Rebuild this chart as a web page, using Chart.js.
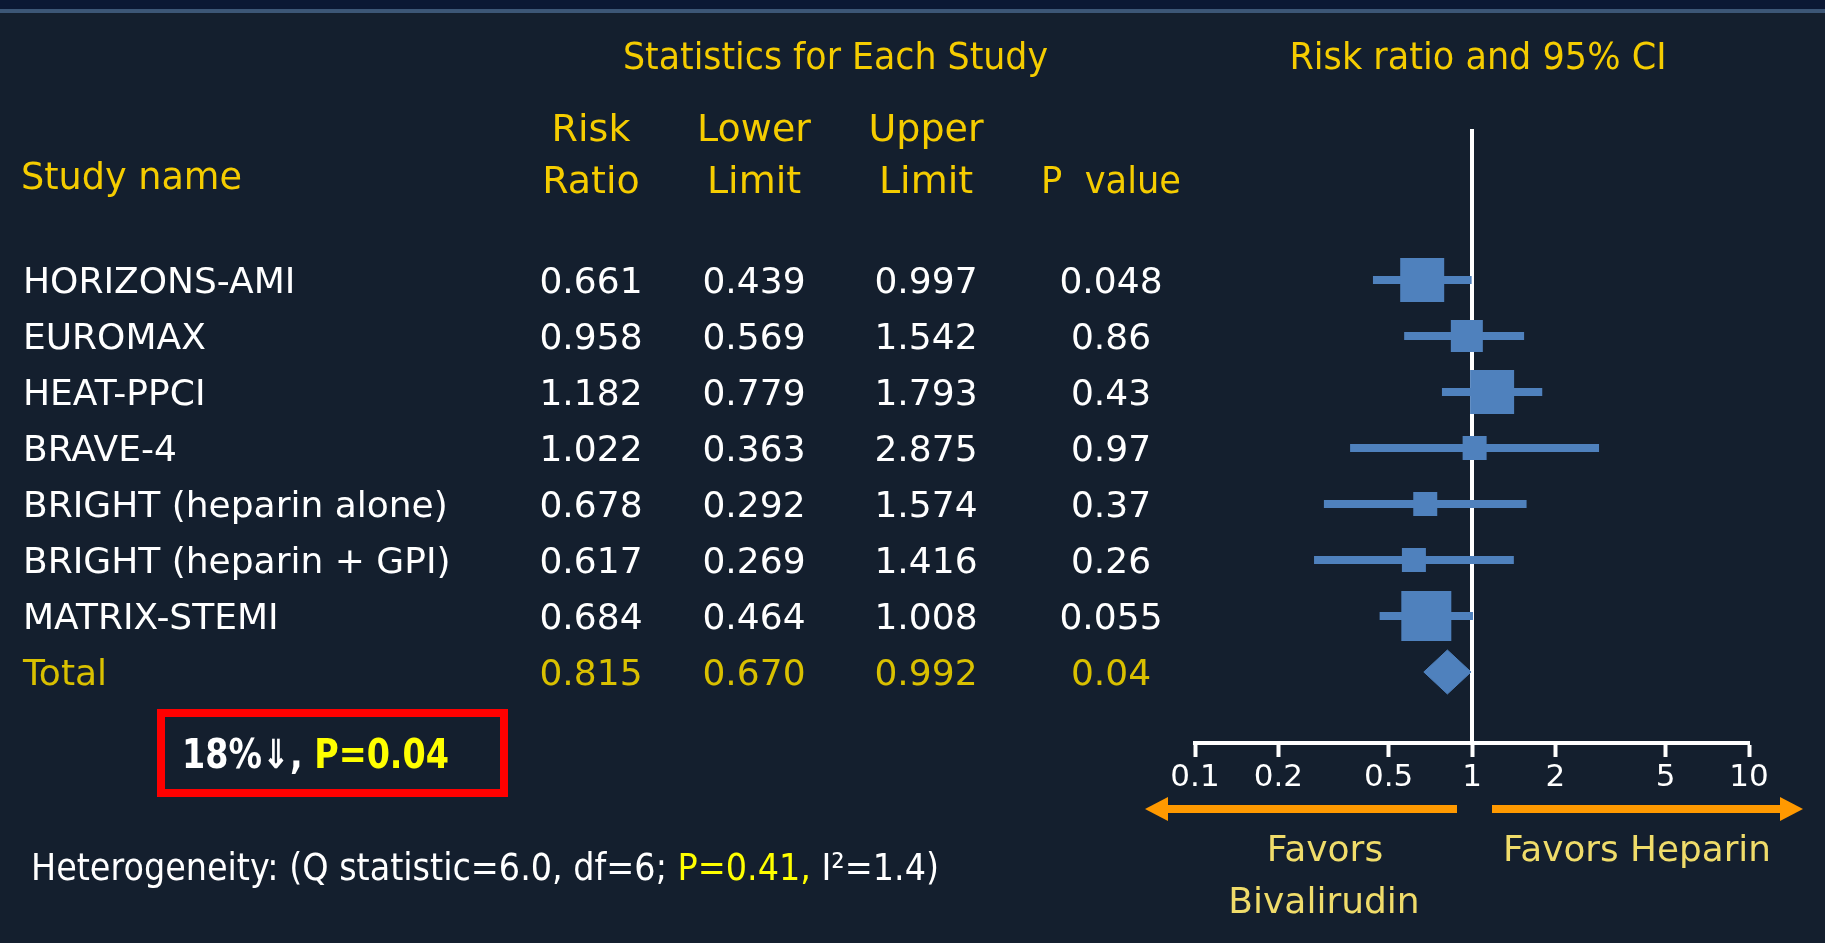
<!DOCTYPE html>
<html>
<head>
<meta charset="utf-8">
<title>Bivalirudin vs Heparin - Risk ratio forest plot</title>
<script src="https://cdn.jsdelivr.net/npm/chart.js@4.4.1/dist/chart.umd.min.js"></script>
<style>
    html, body { margin: 0; padding: 0; background: #141f2e; }
    canvas { display: block; }
</style>
</head>
<body>
<canvas id="forestChart" width="1825" height="943"></canvas>
<script>
// Study data
const studies = ['HORIZONS-AMI', 'EUROMAX', 'HEAT-PPCI', 'BRAVE-4', 'BRIGHT (heparin alone)', 'BRIGHT (heparin + GPI)', 'MATRIX-STEMI'];
const riskRatio = [0.661, 0.958, 1.182, 1.022, 0.678, 0.617, 0.684];
const lowerLimit = [0.439, 0.569, 0.779, 0.363, 0.292, 0.269, 0.464];
const upperLimit = [0.997, 1.542, 1.793, 2.875, 1.574, 1.416, 1.008];
const pValue = [0.048, 0.86, 0.43, 0.97, 0.37, 0.26, 0.055];

// Pooled result
const totalLabel = 'Total';
const totalRR = 0.815;
const totalLower = 0.670;
const totalUpper = 0.992;
const totalP = 0.04;

// Axis ticks
const tickValues = [0.1, 0.2, 0.5, 1, 2, 5, 10];
const tickLabels = ['0.1', '0.2', '0.5', '1', '2', '5', '10'];

// --- styling / layout (pixels) ---
const W = 1825, H = 943;
const ROW0 = 280, ROW_H = 56;          // centre of first row, row pitch
const PLOT_TOP = 129, AXIS_Y = 743;
const PLOT_LEFT = 1195, PLOT_RIGHT = 1749;
const AXIS_H = 60;
const boxSide = [44, 32, 44, 24, 24, 24, 50];   // marker square size per study
const DIAMOND_HALF_H = 22;

const BG = '#141f2e';
const BLUE = '#4f81bd';
const GOLD = '#f5cc00';
const TOTAL_GOLD = '#d9c000';
const FAVOR = '#f0dc6a';
const YELLOW = '#ffff00';
const ORANGE = '#ff9900';
const FONT = '"DejaVu Sans", sans-serif';

const yMin = (PLOT_TOP - ROW0) / ROW_H;
const yMax = (AXIS_Y - ROW0) / ROW_H;
const totalRow = studies.length;
const dh = DIAMOND_HALF_H / ROW_H;

// whiskers as one broken line (null y splits the segments)
const whiskerPoints = [];
studies.forEach((s, i) => {
    whiskerPoints.push({ x: lowerLimit[i], y: i }, { x: upperLimit[i], y: i }, { x: 1, y: null });
});

const fmt3 = v => v.toFixed(3);

function drawRuns(ctx, runs, x, baseline, opt) {
    ctx.save();
    ctx.font = `${opt.weight || 'normal'} ${opt.size}px ${FONT}`;
    ctx.textAlign = 'left';
    ctx.textBaseline = 'alphabetic';
    const full = runs.reduce((w, r) => w + ctx.measureText(r[0]).width, 0);
    const k = opt.width ? Math.min(1, opt.width / full) : 1;
    let left = x;
    if (opt.align === 'center') left = x - full * k / 2;
    else if (opt.align === 'right') left = x - full * k;
    ctx.translate(left, baseline);
    ctx.scale(k, 1);
    let cx = 0;
    runs.forEach(([t, c]) => {
        ctx.fillStyle = c;
        ctx.fillText(t, cx, 0);
        cx += ctx.measureText(t).width;
    });
    ctx.restore();
}

const slidePlugin = {
    id: 'slideDecor',
    beforeDraw(chart) {
        const ctx = chart.ctx;
        ctx.save();
        ctx.fillStyle = BG;
        ctx.fillRect(0, 0, W, H);
        ctx.fillStyle = '#0b1834';
        ctx.fillRect(0, 0, W, 9);
        ctx.fillStyle = '#3c5676';
        ctx.fillRect(0, 9, W, 4);
        ctx.restore();
    },
    afterDraw(chart) {
        const ctx = chart.ctx;
        const y = chart.scales.y;
        const x = chart.scales.x;
        const colX = [591, 754, 926, 1111];

        // headings
        drawRuns(ctx, [['Statistics for Each Study', GOLD]], 623, 69, { size: 38, width: 425 });
        drawRuns(ctx, [['Risk ratio and 95% CI', GOLD]], 1478, 69, { size: 38, width: 377, align: 'center' });
        drawRuns(ctx, [['Risk', GOLD]], colX[0], 141, { size: 38, align: 'center' });
        drawRuns(ctx, [['Ratio', GOLD]], colX[0], 193, { size: 38, align: 'center' });
        drawRuns(ctx, [['Lower', GOLD]], colX[1], 141, { size: 38, align: 'center' });
        drawRuns(ctx, [['Limit', GOLD]], colX[1], 193, { size: 38, align: 'center' });
        drawRuns(ctx, [['Upper', GOLD]], colX[2], 141, { size: 38, align: 'center' });
        drawRuns(ctx, [['Limit', GOLD]], colX[2], 193, { size: 38, align: 'center' });
        drawRuns(ctx, [['P  value', GOLD]], colX[3], 193, { size: 38, align: 'center', width: 140 });
        drawRuns(ctx, [['Study name', GOLD]], 21, 189, { size: 38, width: 221 });

        // table rows
        studies.forEach((name, i) => {
            const b = y.getPixelForValue(i) + 12.5;
            drawRuns(ctx, [[name, '#ffffff']], 23, b, { size: 36 });
            [fmt3(riskRatio[i]), fmt3(lowerLimit[i]), fmt3(upperLimit[i]), String(pValue[i])].forEach((t, c) => {
                drawRuns(ctx, [[t, '#ffffff']], colX[c], b, { size: 36, align: 'center' });
            });
        });
        const tb = y.getPixelForValue(totalRow) + 12.5;
        drawRuns(ctx, [[totalLabel, TOTAL_GOLD]], 23, tb, { size: 36 });
        [fmt3(totalRR), fmt3(totalLower), fmt3(totalUpper), String(totalP)].forEach((t, c) => {
            drawRuns(ctx, [[t, TOTAL_GOLD]], colX[c], tb, { size: 36, align: 'center' });
        });

        // highlighted result box
        ctx.save();
        ctx.strokeStyle = '#ff0000';
        ctx.lineWidth = 8;
        ctx.strokeRect(161, 713, 343, 80);
        ctx.restore();
        drawRuns(ctx, [['18%\u21d3, ', '#ffffff'], ['P=0.04', YELLOW]], 182, 768, { size: 40, weight: 'bold', width: 267 });

        // heterogeneity note
        drawRuns(ctx, [
            ['Heterogeneity: (Q statistic=6.0, df=6; ', '#ffffff'],
            ['P=0.41, ', YELLOW],
            ['I\u00b2=1.4)', '#ffffff']
        ], 31, 880, { size: 37, width: 908 });

        // favours arrows
        const one = x.getPixelForValue(1);
        const left = x.getPixelForValue(0.1);
        const right = x.getPixelForValue(10);
        const ay = 809;
        ctx.save();
        ctx.fillStyle = ORANGE;
        ctx.fillRect(left - 27, ay - 4, one - 15 - (left - 27), 8);
        ctx.beginPath();
        ctx.moveTo(left - 50, ay);
        ctx.lineTo(left - 27, ay - 12);
        ctx.lineTo(left - 27, ay + 12);
        ctx.closePath();
        ctx.fill();
        ctx.fillRect(one + 20, ay - 4, right + 31 - (one + 20), 8);
        ctx.beginPath();
        ctx.moveTo(right + 54, ay);
        ctx.lineTo(right + 31, ay - 12);
        ctx.lineTo(right + 31, ay + 12);
        ctx.closePath();
        ctx.fill();
        ctx.restore();

        drawRuns(ctx, [['Favors', FAVOR]], 1325, 861, { size: 36, align: 'center' });
        drawRuns(ctx, [['Bivalirudin', FAVOR]], 1324, 913, { size: 36, align: 'center' });
        drawRuns(ctx, [['Favors Heparin', FAVOR]], 1637, 861, { size: 36, align: 'center', width: 268 });
    }
};

const forestChart = new Chart(document.getElementById('forestChart'), {
    type: 'scatter',
    data: {
        datasets: [
            {
                type: 'line',
                label: 'Pooled',
                data: [
                    { x: totalLower, y: totalRow },
                    { x: totalRR, y: totalRow - dh },
                    { x: totalUpper, y: totalRow },
                    { x: totalRR, y: totalRow + dh },
                    { x: totalLower, y: totalRow }
                ],
                borderColor: BLUE,
                borderWidth: 1,
                backgroundColor: BLUE,
                fill: 'shape',
                pointRadius: 0,
                order: 0
            },
            {
                type: 'scatter',
                label: 'Risk ratio',
                data: riskRatio.map((v, i) => ({ x: v, y: i })),
                pointStyle: 'rect',
                pointRadius: boxSide.map(s => s / Math.SQRT2),
                backgroundColor: BLUE,
                borderWidth: 0,
                order: 1
            },
            {
                type: 'line',
                label: '95% CI',
                data: whiskerPoints,
                borderColor: BLUE,
                borderWidth: 8,
                borderCapStyle: 'butt',
                pointRadius: 0,
                spanGaps: false,
                fill: false,
                order: 2
            },
            {
                type: 'line',
                label: 'No effect',
                data: [{ x: 1, y: yMin }, { x: 1, y: yMax }],
                borderColor: '#ffffff',
                borderWidth: 4,
                pointRadius: 0,
                fill: false,
                order: 3
            }
        ]
    },
    options: {
        responsive: false,
        animation: false,
        devicePixelRatio: 1,
        events: [],
        layout: {
            padding: { left: PLOT_LEFT, right: W - PLOT_RIGHT, top: PLOT_TOP, bottom: H - AXIS_Y - AXIS_H }
        },
        plugins: {
            legend: { display: false },
            tooltip: { enabled: false }
        },
        scales: {
            x: {
                type: 'logarithmic',
                min: 0.1,
                max: 10,
                afterBuildTicks: sc => { sc.ticks = tickValues.map(v => ({ value: v })); },
                afterFit: sc => { sc.height = AXIS_H; },
                border: { display: true, color: '#ffffff', width: 4 },
                grid: { drawOnChartArea: false, drawTicks: true, tickLength: 14, tickWidth: 4, tickColor: '#ffffff' },
                ticks: {
                    color: '#ffffff',
                    font: { family: 'DejaVu Sans', size: 31 },
                    padding: 2,
                    autoSkip: false,
                    maxRotation: 0,
                    callback: (v, i) => tickLabels[i]
                }
            },
            y: {
                type: 'linear',
                min: yMin,
                max: yMax,
                reverse: true,
                display: false
            }
        }
    },
    plugins: [slidePlugin]
});
</script>
</body>
</html>
